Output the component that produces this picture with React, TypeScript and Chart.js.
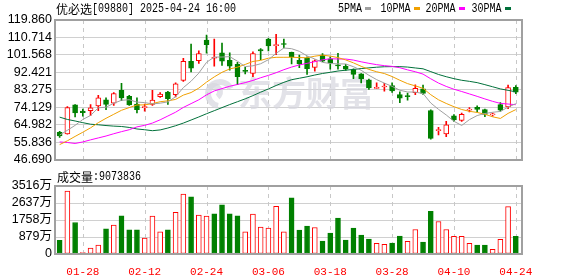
import React, { useEffect, useRef } from 'react';
import { Chart, registerables } from 'chart.js';

Chart.register(...registerables);

// ---------------- data ----------------
const dates = [
  '01-23', '01-24', '01-27', '01-28', '02-03', '02-04', '02-05', '02-06', '02-07', '02-10',
  '02-11', '02-12', '02-13', '02-14', '02-17', '02-18', '02-19', '02-20', '02-21', '02-24',
  '02-25', '02-26', '02-27', '02-28', '03-03', '03-04', '03-05', '03-06', '03-07', '03-10',
  '03-11', '03-12', '03-13', '03-14', '03-17', '03-18', '03-19', '03-20', '03-21', '03-24',
  '03-25', '03-26', '03-27', '03-28', '03-31', '04-01', '04-02', '04-03', '04-07', '04-08',
  '04-09', '04-10', '04-11', '04-14', '04-15', '04-16', '04-17', '04-22', '04-23', '04-24',
];
const xLabels = ['01-28', '02-12', '02-24', '03-06', '03-18', '03-28', '04-10', '04-24'];

const opens = [
  61.0, 60.1, 75.3, 72.1, 72.3, 74.8, 78.0, 76.3, 83.0, 79.8,
  75.8, 73.9, 75.6, 79.6, 82.0, 80.7, 88.2, 98.2, 98.5, 109.3,
  99.8, 102.7, 98.7, 96.6, 93.45, 91.9, 104.4, 109.8, 106.4, 107.3,
  102.9, 98.7, 99.7, 95.0, 101.4, 99.5, 96.3, 95.5, 93.8, 91.6,
  88.4, 84.0, 84.7, 85.4, 80.7, 80.2, 81.7, 83.7, 72.3, 61.8,
  60.15, 69.6, 67.2, 72.6, 74.1, 72.9, 70.1, 75.45, 74.3, 84.5,
];
const highs = [
  61.5, 74.4, 75.5, 73.1, 75.45, 80.3, 79.1, 81.85, 86.7, 80.3,
  79.0, 75.8, 83.0, 81.85, 82.5, 86.9, 99.7, 107.2, 103.7, 112.0,
  109.8, 107.75, 102.7, 97.7, 95.1, 103.2, 104.9, 110.3, 112.3, 109.8,
  103.0, 101.5, 100.5, 99.0, 102.2, 100.5, 102.4, 96.6, 94.3, 91.8,
  88.9, 86.9, 86.7, 86.9, 82.2, 81.5, 85.9, 85.7, 72.8, 63.5,
  66.7, 70.2, 71.1, 73.9, 74.8, 73.1, 71.1, 76.5, 85.7, 85.5,
];
const lows = [
  58.3, 60.0, 69.0, 69.4, 69.7, 72.3, 72.8, 75.1, 77.6, 75.0,
  71.1, 72.1, 75.1, 79.2, 75.6, 79.5, 87.7, 92.6, 97.1, 102.5,
  95.6, 96.1, 93.6, 86.0, 91.6, 90.1, 99.0, 103.7, 101.7, 105.2,
  96.8, 94.8, 91.3, 93.0, 98.0, 94.1, 94.1, 93.45, 89.1, 86.9,
  83.5, 84.0, 82.5, 81.85, 76.5, 77.8, 80.7, 80.8, 57.3, 59.6,
  58.6, 66.7, 66.7, 71.6, 71.6, 69.1, 69.4, 71.9, 73.3, 81.2,
];
const closes = [
  59.0, 73.9, 71.1, 71.2, 73.8, 79.0, 75.6, 81.3, 79.0, 75.3,
  72.8, 74.3, 77.8, 81.0, 78.6, 86.4, 98.2, 94.6, 102.2, 106.9,
  100.2, 98.3, 95.6, 90.1, 92.95, 102.2, 103.7, 106.2, 106.8, 107.0,
  100.35, 96.8, 94.3, 98.5, 98.3, 97.3, 95.8, 94.1, 91.3, 88.9,
  84.2, 84.4, 85.0, 82.7, 78.8, 79.65, 84.0, 81.35, 57.8, 62.2,
  64.9, 67.4, 70.4, 73.1, 72.9, 70.3, 70.6, 72.6, 84.4, 82.0,
];
// volume in 万 (10,000 shares)
const volumes = [
  703, 3259, 1629, 69, 309, 463, 1304, 1492, 1972, 1252,
  1252, 823, 1955, 1149, 1252, 2161, 3104, 2950, 2007, 1955,
  2075, 2538, 2075, 1972, 1149, 2058, 1389, 1338, 2470, 1149,
  2899, 1235, 1441, 1372, 669, 1081, 1852, 720, 1338, 978,
  772, 549, 497, 566, 926, 652, 1269, 617, 2212, 1681,
  1269, 909, 909, 549, 463, 463, 240, 755, 2453, 907.3836,
];
// moving-average values at the start of the window (earlier data not shown)
const ma5Lead = [59.5, 62.0, 64.6, 67.7];
const ma10Lead = [54.5, 56.5, 58.8, 61.0, 63.3, 66.0, 68.3, 70.4, 72.5];
const ma20Lead = [55.9, 55.6, 55.1, 55.9, 57.0, 58.0, 59.0, 60.2, 61.3, 62.3, 63.8, 64.6, 65.8, 67.5, 69.5, 71.5, 74.0, 76.0, 78.0];
const ma30Lead = [68.9, 67.7, 66.9, 66.0, 65.2, 64.9, 64.5, 64.2, 64.0, 63.5, 62.7, 62.3, 61.8, 62.2, 63.2, 64.4, 65.8, 67.4, 69.0, 70.7, 72.3, 73.9, 75.5, 77.0, 78.5, 80.2, 82.0, 83.7, 85.5];

const priceTicks = [46.69, 55.836, 64.982, 74.129, 83.275, 92.421, 101.568, 110.714, 119.86];
const volTicks = [0, 879, 1758, 2637, 3516];

const titleText = '优必选[09880] 2025-04-24 16:00';
const maNames = ['5PMA', '10PMA', '20PMA', '30PMA'];
const maColors = ['#a0a0a0', '#f0a000', '#ff00ff', '#00703a'];

const RED = '#ff0000';
const GREEN = '#008000';

function movingAvg(n: number, lead: number[]) {
  return closes.map((_, i) => {
    if (i < n - 1) return lead[i];
    let s = 0;
    for (let k = i - n + 1; k <= i; k++) s += closes[k];
    return s / n;
  });
}

function drawMono(ctx: CanvasRenderingContext2D, text: string, x: number, y: number) {
  let cx = x;
  ctx.textBaseline = 'middle';
  ctx.textAlign = 'left';
  for (const ch of text) {
    if (ch.charCodeAt(0) > 255) {
      ctx.font = '12px "Noto Sans CJK SC"';
      ctx.fillText(ch, cx, y);
      cx += 12;
    } else {
      ctx.font = '12px "Liberation Mono"';
      if (ch !== ' ') ctx.fillText(ch, cx, y, 6);
      cx += 6;
    }
  }
  return cx;
}

export default function App() {
  const mainRef = useRef<HTMLCanvasElement>(null);
  const volRef = useRef<HTMLCanvasElement>(null);

  useEffect(() => {
    const idx = dates.map((_, i) => i);
    const up = idx.map((i) => closes[i] >= opens[i]);
    const volUp = idx.map((i) => (i === 0 ? closes[0] >= opens[0] : closes[i] >= closes[i - 1]));
    const labelIdx = xLabels.map((d) => dates.indexOf(d));
    const mas = [movingAvg(5, ma5Lead), movingAvg(10, ma10Lead), movingAvg(20, ma20Lead), movingAvg(30, ma30Lead)];
    const X_MIN = -0.6;
    const X_MAX = 59.8;

    const dashedX = {
      id: 'dashedX',
      beforeDatasetsDraw(chart: any) {
        const { ctx, chartArea: a, scales } = chart;
        ctx.save();
        ctx.strokeStyle = '#c8c8c8';
        ctx.lineWidth = 1;
        ctx.setLineDash([4, 4]);
        labelIdx.forEach((i) => {
          const px = Math.round(scales.x.getPixelForValue(i)) + 0.5;
          ctx.beginPath();
          ctx.moveTo(px, a.top);
          ctx.lineTo(px, a.bottom);
          ctx.stroke();
        });
        ctx.restore();
      },
    };
    const box = {
      id: 'box',
      afterDraw(chart: any) {
        const { ctx, chartArea: a } = chart;
        ctx.save();
        ctx.strokeStyle = '#a0a0a0';
        ctx.lineWidth = 2;
        ctx.strokeRect(Math.round(a.left), Math.round(a.top), Math.round(a.right - a.left), Math.round(a.bottom - a.top));
        ctx.restore();
      },
    };
    const watermark = {
      id: 'watermark',
      beforeDatasetsDraw(chart: any) {
        const { ctx } = chart;
        ctx.save();
        ctx.fillStyle = 'rgba(214,214,222,0.7)';
        ctx.strokeStyle = 'rgba(214,214,222,0.7)';
        ctx.font = 'bold 34px "Noto Sans CJK SC"';
        ctx.textBaseline = 'middle';
        ctx.textAlign = 'left';
        ctx.fillText('东方财富', 238, 93);
        ctx.lineWidth = 6;
        ctx.beginPath();
        ctx.arc(220, 94, 12, Math.PI * 0.55, Math.PI * 1.85);
        ctx.stroke();
        ctx.beginPath();
        ctx.arc(214, 92, 6, Math.PI * 1.2, Math.PI * 2.3);
        ctx.stroke();
        ctx.restore();
      },
    };
    const header = {
      id: 'header',
      afterDraw(chart: any) {
        const { ctx } = chart;
        ctx.save();
        ctx.fillStyle = '#000';
        drawMono(ctx, titleText, 56, 9);
        const lx = [338, 380.5, 425.5, 471.5];
        maNames.forEach((n, k) => {
          ctx.fillStyle = '#000';
          const end = drawMono(ctx, n, lx[k], 9);
          ctx.fillStyle = maColors[k];
          ctx.fillRect(Math.round(end + 3), 7, 6, 3);
        });
        ctx.restore();
      },
    };
    const volHeader = {
      id: 'volHeader',
      afterDraw(chart: any) {
        const { ctx } = chart;
        ctx.save();
        ctx.fillStyle = '#000';
        drawMono(ctx, '成交量:' + Math.round(volumes[volumes.length - 1] * 10000), 57, 7);
        ctx.restore();
      },
    };

    const main = new Chart(mainRef.current as HTMLCanvasElement, {
      type: 'bar',
      data: {
        datasets: [
          ...mas.map((m, k) => ({
            type: 'line' as const,
            label: maNames[k],
            data: idx.map((i) => ({ x: i, y: m[i] })),
            borderColor: maColors[k],
            borderWidth: 1,
            pointRadius: 0,
            tension: 0,
            order: 1,
          })),
          {
            type: 'bar' as const,
            label: 'body',
            data: idx.map((i) => ({ x: i, y: [opens[i], closes[i]] })),
            backgroundColor: up.map((u) => (u ? '#ffffff' : GREEN)),
            borderColor: up.map((u) => (u ? RED : GREEN)),
            borderWidth: 1,
            borderSkipped: false,
            barThickness: 5,
            minBarLength: 1,
            grouped: false,
            order: 2,
          },
          {
            type: 'bar' as const,
            label: 'wick',
            data: idx.map((i) => ({ x: i, y: [lows[i], highs[i]] })),
            backgroundColor: up.map((u) => (u ? RED : GREEN)),
            borderWidth: 0,
            barThickness: 1,
            grouped: false,
            order: 3,
          },
        ] as any,
      },
      options: {
        animation: false,
        responsive: false,
        events: [],
        layout: { padding: { top: 20, right: 56, bottom: 5, left: 0 }, autoPadding: false },
        plugins: { legend: { display: false }, tooltip: { enabled: false } },
        scales: {
          x: {
            type: 'linear',
            min: X_MIN,
            max: X_MAX,
            offset: false,
            grid: { display: false },
            border: { display: false },
            ticks: { display: false },
            afterFit: (s: any) => { s.height = 0; },
          },
          y: {
            type: 'linear',
            min: priceTicks[0],
            max: priceTicks[priceTicks.length - 1],
            afterBuildTicks: (s: any) => { s.ticks = priceTicks.map((v) => ({ value: v })); },
            afterFit: (s: any) => { s.width = 55; },
            ticks: {
              callback: (v: any) => Number(v).toFixed(3),
              color: '#000',
              font: { family: '"Liberation Sans", Arial, sans-serif', size: 12.5 },
              padding: 3,
              autoSkip: false,
            },
            grid: { color: '#d0d0d0', drawTicks: false },
            border: { display: false },
          },
        },
      } as any,
      plugins: [dashedX, watermark, box, header],
    });

    const vol = new Chart(volRef.current as HTMLCanvasElement, {
      type: 'bar',
      data: {
        datasets: [
          {
            label: 'vol',
            data: idx.map((i) => ({ x: i, y: volumes[i] })),
            backgroundColor: volUp.map((u) => (u ? '#ffffff' : GREEN)),
            borderColor: volUp.map((u) => (u ? RED : GREEN)),
            borderWidth: 1,
            borderSkipped: false,
            barThickness: 5,
            minBarLength: 1,
          },
        ] as any,
      },
      options: {
        animation: false,
        responsive: false,
        events: [],
        layout: { padding: { top: 16, right: 56, bottom: 0, left: 0 }, autoPadding: false },
        plugins: { legend: { display: false }, tooltip: { enabled: false } },
        scales: {
          x: {
            type: 'linear',
            min: X_MIN,
            max: X_MAX,
            offset: false,
            afterBuildTicks: (s: any) => { s.ticks = labelIdx.map((v) => ({ value: v })); },
            afterFit: (s: any) => { s.height = 22; },
            ticks: {
              callback: (v: any) => dates[v],
              color: RED,
              font: { family: '"Liberation Mono", monospace', size: 11 },
              padding: 3,
              maxRotation: 0,
              autoSkip: false,
            },
            grid: { display: false },
            border: { display: false },
          },
          y: {
            type: 'linear',
            min: volTicks[0],
            max: volTicks[volTicks.length - 1],
            afterBuildTicks: (s: any) => { s.ticks = volTicks.map((v) => ({ value: v })); },
            afterFit: (s: any) => { s.width = 55; },
            ticks: {
              callback: (v: any) => (v === 0 ? '0' : v + '万'),
              color: '#000',
              font: { family: '"Liberation Sans", "Noto Sans CJK SC", sans-serif', size: 12.5 },
              padding: 3,
              autoSkip: false,
            },
            grid: { color: '#d0d0d0', drawTicks: false },
            border: { display: false },
          },
        },
      } as any,
      plugins: [dashedX, box, volHeader],
    });

    return () => {
      main.destroy();
      vol.destroy();
    };
  }, []);

  return (
    <div style={{ position: 'fixed', left: 0, top: 0, width: 578, height: 276, background: '#fff' }}>
      <canvas ref={mainRef} width={578} height={170} style={{ position: 'absolute', left: 0, top: 0, width: 578, height: 170 }} />
      <canvas ref={volRef} width={578} height={106} style={{ position: 'absolute', left: 0, top: 170, width: 578, height: 106 }} />
    </div>
  );
}
